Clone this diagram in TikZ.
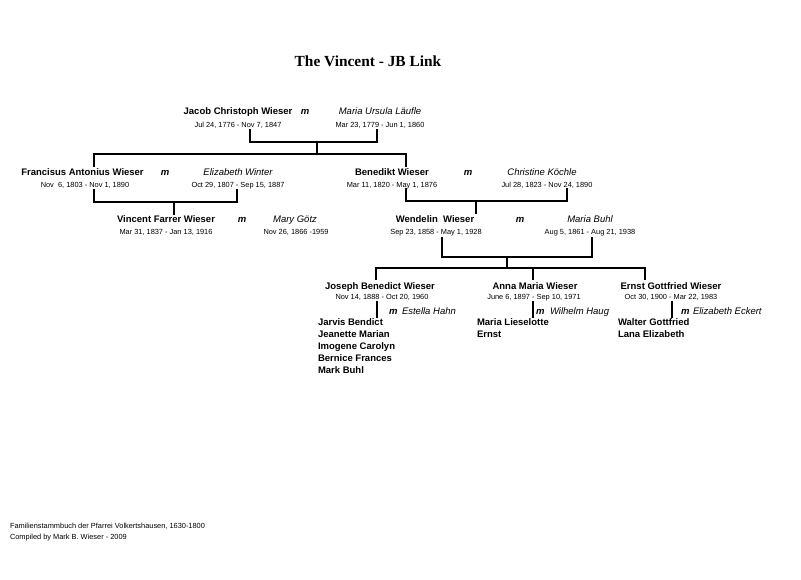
\documentclass[tikz,border=0pt]{standalone}
\usepackage{fontspec}
\setmainfont{Liberation Sans}
\newfontfamily\titlefont{Liberation Serif}
\begin{document}
\begin{tikzpicture}[x=1pt,y=-1pt,
  every node/.style={inner sep=0pt,outer sep=0pt},
  pname/.style={font=\fontsize{9.5}{11}\selectfont\bfseries,anchor=base},
  spouse/.style={font=\fontsize{9.5}{11}\selectfont\itshape,anchor=base},
  marr/.style={font=\fontsize{9.5}{11}\selectfont\bfseries\itshape,anchor=base},
  dates/.style={font=\fontsize{7.4}{9}\selectfont,anchor=base},
  kid/.style={font=\fontsize{9.5}{11}\selectfont\bfseries,anchor=base west},
  foot/.style={font=\fontsize{7.4}{9}\selectfont,anchor=base west},
  link/.style={line width=1.1pt,line cap=rect}]
\useasboundingbox (0,0) rectangle (801,580);
\fill[white] (0,0) rectangle (801,580);

% title
\node[font=\titlefont\fontsize{15.4}{18}\selectfont\bfseries,anchor=base] (title) at (368,67) {The Vincent - JB Link};

% generation 1
\node[pname] (jc) at (238,114.5) {Jacob Christoph Wieser};
\node[dates] (jcd) at (238,127.6) {Jul 24, 1776 - Nov 7, 1847};
\node[marr] (m1) at (305,114.5) {m};
\node[spouse] (mul) at (380,114.5) {Maria Ursula Läufle};
\node[dates] (muld) at (380,127.6) {Mar 23, 1779 - Jun 1, 1860};

% generation 2 left
\node[pname] (fa) at (82.5,175.5) {Francisus Antonius Wieser};
\node[dates] (fad) at (85,187.6) {Nov\ \ 6, 1803 - Nov 1, 1890};
\node[marr] (m2) at (165,175.5) {m};
\node[spouse] (ew) at (238,175.5) {Elizabeth Winter};
\node[dates] (ewd) at (238,187.6) {Oct 29, 1807 - Sep 15, 1887};

% generation 2 right
\node[pname] (bw) at (392,175.5) {Benedikt Wieser};
\node[dates] (bwd) at (392,187.6) {Mar 11, 1820 - May 1, 1876};
\node[marr] (m3) at (468,175.5) {m};
\node[spouse] (ck) at (542,175.5) {Christine Köchle};
\node[dates] (ckd) at (547,187.6) {Jul 28, 1823 - Nov 24, 1890};

% generation 3 left
\node[pname] (vf) at (166,222.5) {Vincent Farrer Wieser};
\node[dates] (vfd) at (166,234.6) {Mar 31, 1837 - Jan 13, 1916};
\node[marr] (m4) at (242,222.5) {m};
\node[spouse] (mg) at (295,222.5) {Mary Götz};
\node[dates] (mgd) at (296,234.6) {Nov 26, 1866 -1959};

% generation 3 right
\node[pname] (ww) at (435,222.5) {Wendelin\ \ Wieser};
\node[dates] (wwd) at (436,234.6) {Sep 23, 1858 - May 1, 1928};
\node[marr] (m5) at (520,222.5) {m};
\node[spouse] (mb) at (590,222.5) {Maria Buhl};
\node[dates] (mbd) at (590,234.6) {Aug 5, 1861 - Aug 21, 1938};

% generation 4
\node[pname] (jb) at (380,289.5) {Joseph Benedict Wieser};
\node[dates] (jbd) at (382,299.6) {Nov 14, 1888 - Oct 20, 1960};
\node[marr,anchor=base west] (m6) at (389,314.5) {m};
\node[spouse,anchor=base west] (eh) at (402,314.5) {Estella Hahn};
\node[kid] (k1) at (318,325.5) {Jarvis Bendict};
\node[kid] (k2) at (318,337.5) {Jeanette Marian};
\node[kid] (k3) at (318,349.5) {Imogene Carolyn};
\node[kid] (k4) at (318,361.5) {Bernice Frances};
\node[kid] (k5) at (318,373.5) {Mark Buhl};

\node[pname] (am) at (535,289.5) {Anna Maria Wieser};
\node[dates] (amd) at (534,299.6) {June 6, 1897 - Sep 10, 1971};
\node[marr,anchor=base west] (m7) at (536,314.5) {m};
\node[spouse,anchor=base west] (wh) at (550,314.5) {Wilhelm Haug};
\node[kid] (k6) at (477,325.5) {Maria Lieselotte};
\node[kid] (k7) at (477,337.5) {Ernst};

\node[pname] (eg) at (671,289.5) {Ernst Gottfried Wieser};
\node[dates] (egd) at (671,299.6) {Oct 30, 1900 - Mar 22, 1983};
\node[marr,anchor=base west] (m8) at (681,314.5) {m};
\node[spouse,anchor=base west] (ee) at (693,314.5) {Elizabeth Eckert};
\node[kid] (k8) at (618,325.5) {Walter Gottfried};
\node[kid] (k9) at (618,337.5) {Lana Elizabeth};

% footer
\node[foot] (f1) at (10,528.6) {Familienstammbuch der Pfarrei Volkertshausen, 1630-1800};
\node[foot] (f2) at (10,539.6) {Compiled by Mark B. Wieser - 2009};

% connector coordinates
\coordinate (a1) at (250,130); \coordinate (a2) at (250,142);
\coordinate (a3) at (377,142); \coordinate (a4) at (377,130);
\coordinate (a5) at (317,142); \coordinate (a6) at (317,154);
\coordinate (a7) at (94,154);  \coordinate (a8) at (406,154);
\coordinate (a9) at (94,166);  \coordinate (a10) at (406,166);

\coordinate (b1) at (94,190);  \coordinate (b2) at (94,202);
\coordinate (b3) at (237,202); \coordinate (b4) at (237,190);
\coordinate (b5) at (174,202); \coordinate (b6) at (174,214);

\coordinate (c1) at (406,189); \coordinate (c2) at (406,201);
\coordinate (c3) at (567,201); \coordinate (c4) at (567,189);
\coordinate (c5) at (476,201); \coordinate (c6) at (476,213);

\coordinate (d1) at (442,238); \coordinate (d2) at (442,257);
\coordinate (d3) at (592,257); \coordinate (d4) at (592,238);
\coordinate (d5) at (507,257); \coordinate (d6) at (507,268);
\coordinate (d7) at (376,268); \coordinate (d8) at (645,268);
\coordinate (d9) at (376,279); \coordinate (d10) at (533,268);
\coordinate (d11) at (533,279); \coordinate (d12) at (645,279);

\coordinate (e1) at (377,302); \coordinate (e2) at (377,317);
\coordinate (e3) at (533,302); \coordinate (e4) at (533,317);
\coordinate (e5) at (672,302); \coordinate (e6) at (672,317);

% connectors
\draw[link] (a1) -- (a2) -- (a3) -- (a4);
\draw[link] (a5) -- (a6);
\draw[link] (a9) -- (a7) -- (a8) -- (a10);
\draw[link] (b1) -- (b2) -- (b3) -- (b4);
\draw[link] (b5) -- (b6);
\draw[link] (c1) -- (c2) -- (c3) -- (c4);
\draw[link] (c5) -- (c6);
\draw[link] (d1) -- (d2) -- (d3) -- (d4);
\draw[link] (d5) -- (d6);
\draw[link] (d9) -- (d7) -- (d8) -- (d12);
\draw[link] (d10) -- (d11);
\draw[link] (e1) -- (e2);
\draw[link] (e3) -- (e4);
\draw[link] (e5) -- (e6);
\end{tikzpicture}
\end{document}
